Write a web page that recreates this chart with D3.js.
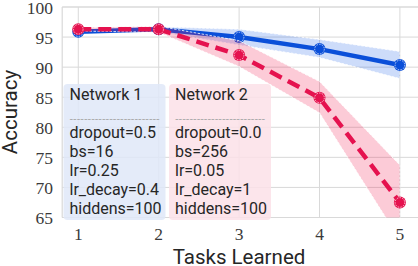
<!DOCTYPE html>
<html><head><meta charset="utf-8">
<script src="https://cdn.jsdelivr.net/npm/d3@7"></script>
<style>html,body{margin:0;padding:0;background:#fff;}svg{display:block;}</style>
</head><body>
<script>
const tasks = [1, 2, 3, 4, 5];
const net1Mean = [95.9, 96.3, 95.0, 93.0, 90.35];
const net1Lo   = [95.6, 95.9, 93.7, 91.6, 88.1];
const net1Hi   = [96.2, 96.7, 96.3, 94.6, 92.6];
const net2Mean = [96.3, 96.3, 92.0, 84.9, 67.5];
const net2Lo   = [96.0, 95.8, 90.1, 82.4, 61.3];
const net2Hi   = [96.6, 96.8, 94.4, 87.6, 73.7];
const yTicks = [65, 70, 75, 80, 85, 90, 95, 100];
const net1Text = ["Network 1", "dropout=0.5", "bs=16", "lr=0.25", "lr_decay=0.4", "hiddens=100"];
const net2Text = ["Network 2", "dropout=0.0", "bs=256", "lr=0.05", "lr_decay=1", "hiddens=100"];
const separator = "-------------------------";

const W = 418, H = 266;
const blue = "#0a4fd9", red = "#e5124f";
const svg = d3.select("body").append("svg").attr("width", W).attr("height", H);

const x = d3.scaleLinear().domain([0.8, 5.2]).range([62.2, 416]);
const y = d3.scaleLinear().domain([65, 100]).range([217.5, 7]);

svg.append("clipPath").attr("id", "clip").append("rect")
  .attr("x", 62.2).attr("y", 7).attr("width", 416 - 62.2).attr("height", 217.5 - 7);

const grid = "#d9d9d9";
svg.append("g").selectAll("line").data(yTicks).join("line")
  .attr("x1", 62.2).attr("x2", W).attr("y1", d => y(d)).attr("y2", d => y(d))
  .attr("stroke", grid).attr("stroke-width", 1);
svg.append("g").selectAll("line").data(tasks).join("line")
  .attr("x1", d => x(d)).attr("x2", d => x(d)).attr("y1", 7).attr("y2", 217.5)
  .attr("stroke", grid).attr("stroke-width", 1);
svg.append("line").attr("x1", 62.2).attr("x2", 62.2).attr("y1", 7).attr("y2", 217.5).attr("stroke", grid).attr("stroke-width", 1.2);
svg.append("line").attr("x1", 62.2).attr("x2", W).attr("y1", 7).attr("y2", 7).attr("stroke", grid).attr("stroke-width", 1.2);
svg.append("line").attr("x1", 62.2).attr("x2", W).attr("y1", 217.5).attr("y2", 217.5).attr("stroke", grid).attr("stroke-width", 1.2);

svg.append("g").selectAll("text").data(yTicks).join("text")
  .attr("x", 53).attr("y", d => y(d) + 6.5).attr("text-anchor", "end")
  .attr("font-family", "Liberation Serif").attr("font-size", 17.5).attr("fill", "#3a3a3a")
  .text(d => d);
svg.append("g").selectAll("text").data(tasks).join("text")
  .attr("x", d => x(d)).attr("y", 240).attr("text-anchor", "middle")
  .attr("font-family", "Liberation Serif").attr("font-size", 17.5).attr("fill", "#3a3a3a")
  .text(d => d);

svg.append("text").attr("transform", "translate(17,112) rotate(-90)").attr("text-anchor", "middle")
  .attr("font-family", "Roboto").attr("font-size", 20.5).attr("fill", "#262626").text("Accuracy");
svg.append("text").attr("x", 239).attr("y", 264).attr("text-anchor", "middle")
  .attr("font-family", "Roboto").attr("font-size", 20.5).attr("fill", "#262626").text("Tasks Learned");

function box(x0, color, lines) {
  svg.append("rect").attr("x", x0).attr("y", 84).attr("width", 102).attr("height", 136)
    .attr("rx", 4).attr("fill", color).attr("opacity", 0.85);
  const tx = x0 + 6;
  svg.append("text").attr("x", tx).attr("y", 100).attr("font-family", "Roboto").attr("font-size", 16)
    .attr("fill", "#262626").text(lines[0]);
  svg.append("text").attr("x", tx).attr("y", 121.5).attr("font-family", "DejaVu Sans").attr("font-size", 10)
    .attr("fill", "#a8a8a8").text(separator);
  svg.append("g").selectAll("text").data(lines.slice(1)).join("text")
    .attr("x", tx).attr("y", (d, i) => 138 + i * 19).attr("font-family", "Roboto").attr("font-size", 16)
    .attr("fill", "#262626").text(d => d);
}
box(63.5, "#dfe8f8", net1Text);
box(169, "#fce0e8", net2Text);

const plot = svg.append("g").attr("clip-path", "url(#clip)");
function series(mean, lo, hi, color, fillColor, dashed) {
  const area = d3.area().x((d, i) => x(tasks[i])).y0((d, i) => y(lo[i])).y1((d, i) => y(hi[i]));
  plot.append("path").datum(mean).attr("d", area).attr("fill", fillColor).attr("fill-opacity", 0.22)
    .attr("stroke", "#fff").attr("stroke-width", 0.8).attr("stroke-dasharray", "2.5,1.5");
  const line = d3.line().x((d, i) => x(tasks[i])).y(d => y(d));
  plot.append("path").datum(mean).attr("d", line).attr("fill", "none").attr("stroke", color)
    .attr("stroke-width", 4.5).attr("stroke-dasharray", dashed ? "13,7" : null);
  const g = plot.append("g");
  g.selectAll("circle.m").data(mean).join("circle").attr("class", "m")
    .attr("cx", (d, i) => x(tasks[i])).attr("cy", d => y(d)).attr("r", 6).attr("fill", color);
  g.selectAll("circle.r").data(mean).join("circle").attr("class", "r")
    .attr("cx", (d, i) => x(tasks[i])).attr("cy", d => y(d)).attr("r", 4.8).attr("fill", "none")
    .attr("stroke", "#fff").attr("stroke-width", 0.7).attr("stroke-dasharray", "1.5,1.2");
}
series(net1Mean, net1Lo, net1Hi, blue, "#1a5ee6", false);
series(net2Mean, net2Lo, net2Hi, red, "#f0104a", true);
</script>
</body></html>
